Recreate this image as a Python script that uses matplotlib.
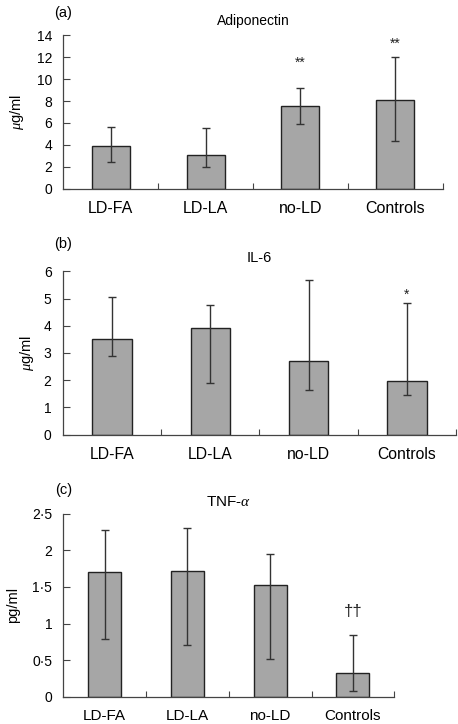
import matplotlib
matplotlib.use("Agg")
import matplotlib.pyplot as plt
import numpy as np

plt.rcParams['font.family'] = ['Liberation Sans', 'DejaVu Sans']
plt.rcParams['mathtext.fontset'] = 'custom'
plt.rcParams['mathtext.it'] = 'Liberation Serif:italic'

categories = ["LD-FA", "LD-LA", "no-LD", "Controls"]

# (a) Adiponectin
adipo_mean = [3.92, 3.05, 7.55, 8.12]
adipo_low = [2.45, 1.98, 5.9, 4.32]
adipo_high = [5.6, 5.55, 9.22, 12.0]
adipo_marks = ["", "", "**", "**"]
adipo_mark_y = [None, None, 11.5, 13.2]
adipo_ticks = [0, 2, 4, 6, 8, 10, 12, 14]

# (b) IL-6
il6_mean = [3.5, 3.9, 2.69, 1.98]
il6_low = [2.9, 1.9, 1.64, 1.45]
il6_high = [5.04, 4.77, 5.68, 4.84]
il6_marks = ["", "", "", "*"]
il6_mark_y = [None, None, None, 5.15]
il6_ticks = [0, 1, 2, 3, 4, 5, 6]

# (c) TNF-alpha
tnf_mean = [1.70, 1.72, 1.53, 0.32]
tnf_low = [0.79, 0.70, 0.52, 0.08]
tnf_high = [2.28, 2.30, 1.95, 0.84]
tnf_marks = ["", "", "", "††"]
tnf_mark_y = [None, None, None, 1.16]
tnf_ticks = [0, 0.5, 1, 1.5, 2, 2.5]
tnf_ticklabels = ["0", "0·5", "1", "1·5", "2", "2·5"]

W, H = 458, 724
fig = plt.figure(figsize=(W / 100, H / 100), dpi=100)

def px_axes(left, right, top, bottom):
    return fig.add_axes([left / W, (H - bottom) / H, (right - left) / W, (bottom - top) / H])

def panel(ax, means, lows, highs, marks, mark_y, ticks, ticklabels, ylabel, title, letter,
          ylabel_x, title_off, letter_off, xfs, mark_fs, title_fs):
    x = np.arange(len(categories))
    means = np.array(means)
    yerr = np.vstack([means - np.array(lows), np.array(highs) - means])
    ax.bar(x, means, width=0.4, color='#a6a6a6', edgecolor='#222222', linewidth=1.0, zorder=2)
    ax.errorbar(x, means, yerr=yerr, fmt='none', ecolor='#333333', elinewidth=1.0,
                capsize=3.2, capthick=1.0, zorder=3)
    for xi, m, my in zip(x, marks, mark_y):
        if m:
            ax.text(xi, my, m, ha='center', va='center', fontsize=mark_fs, color='#222222')
    ax.set_xlim(-0.5, 3.5)
    ax.set_ylim(ticks[0], ticks[-1])
    ax.set_yticks(ticks)
    ax.set_yticklabels(ticklabels, fontsize=10)
    ax.set_xticks(np.arange(0.5, 4.0, 1.0))
    ax.set_xticklabels([])
    ax.set_xticks(x, minor=True)
    ax.set_xticklabels(categories, minor=True, fontsize=xfs)
    ax.tick_params(axis='x', which='major', direction='in', length=4, width=0.8, color='#444444')
    ax.tick_params(axis='x', which='minor', length=0, pad=9)
    ax.tick_params(axis='y', direction='in', length=5, width=0.8, color='#444444', pad=8)
    for s in ['top', 'right']:
        ax.spines[s].set_visible(False)
    for s in ['left', 'bottom']:
        ax.spines[s].set_color('#444444')
        ax.spines[s].set_linewidth(0.9)
    ax.text(ylabel_x, 0.5, ylabel, transform=ax.transAxes, rotation=90,
            ha='center', va='center', fontsize=10.5)
    ax.annotate(title, xy=(0.5, 1.0), xycoords='axes fraction', xytext=(0, title_off),
                textcoords='offset pixels', ha='center', va='center', fontsize=title_fs)
    ax.annotate(letter, xy=(0.0, 1.0), xycoords='axes fraction', xytext=(0, letter_off),
                textcoords='offset pixels', ha='center', va='center', fontsize=10.5)

ax_a = px_axes(63.3, 442.7, 35.3, 188.7)
panel(ax_a, adipo_mean, adipo_low, adipo_high, adipo_marks, adipo_mark_y,
      adipo_ticks, [str(t) for t in adipo_ticks], r'$\mathit{\mu}$g/ml', 'Adiponectin', '(a)',
      -0.123, 14, 22, 11.5, 10, 10)

ax_b = px_axes(62.7, 456.0, 271.3, 434.7)
panel(ax_b, il6_mean, il6_low, il6_high, il6_marks, il6_mark_y,
      il6_ticks, [str(t) for t in il6_ticks], r'$\mathit{\mu}$g/ml', 'IL-6', '(b)',
      -0.092, 13, 27, 11.3, 10, 10.5)

ax_c = px_axes(63.3, 394.3, 513.7, 696.7)
panel(ax_c, tnf_mean, tnf_low, tnf_high, tnf_marks, tnf_mark_y,
      tnf_ticks, tnf_ticklabels, 'pg/ml', r'TNF-$\mathit{\alpha}$', '(c)',
      -0.153, 12, 24, 11.0, 12, 11)

fig.savefig("out.png", dpi=100)
